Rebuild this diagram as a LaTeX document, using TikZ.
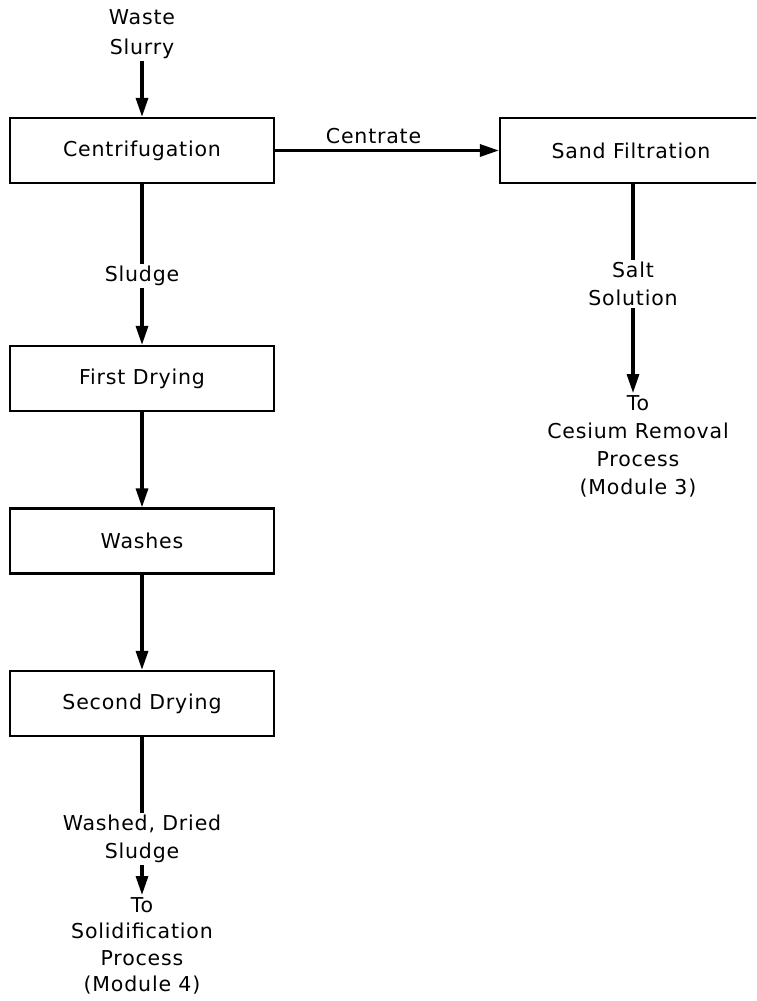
\documentclass[tikz,border=0pt]{standalone}
\usepackage{fontspec}
\setmainfont[LetterSpace=4]{DejaVu Sans}
\usetikzlibrary{arrows.meta}
\begin{document}
\begin{tikzpicture}[x=1pt,y=-1pt,
  box/.style={draw, line width=2.2pt, minimum width=264pt, minimum height=65pt, inner sep=0pt, font=\fontsize{20.5}{28}\selectfont},
  lbl/.style={align=center, inner sep=2pt, font=\fontsize{20.5}{28}\selectfont},
  flow/.style={line width=3.2pt},
  arr/.style={flow, -{Triangle[length=19pt,width=12pt]}}]
\clip (0,0) rectangle (756,1001);
\fill[white] (0,0) rectangle (756,1001);
% boxes
\node[box] (cent) at (142,150.5) {Centrifugation};
\node[box] (fd) at (142,378.5) {First Drying};
\node[box] (wash) at (142,541) {Washes};
\node[box] (sd) at (142,703.5) {Second Drying};
\node[box, minimum width=262pt] (sand) at (631,150.5) {Sand Filtration};
% labels
\node[lbl, font=\fontsize{20.5}{30}\selectfont] (waste) at (142,34) {Waste\\Slurry};
\node[lbl] (sludge) at (142,276) {Sludge};
\node[lbl] (salt) at (633,284) {Salt\\Solution};
\node[lbl, anchor=north] (cs) at (638,393) {To\\Cesium Removal\\Process\\(Module 3)};
\node[lbl] (wds) at (142,839) {Washed, Dried\\Sludge};
\node[lbl, anchor=north, font=\fontsize{20.5}{26.5}\selectfont] (sol) at (142,895) {To\\Solidification\\Process\\(Module 4)};
% connectors
\draw[arr] (waste.south) -- (cent.north);
\draw[flow] (cent.south) -- (sludge.north);
\draw[arr] (sludge.south) -- (fd.north);
\draw[arr] (fd.south) -- (wash.north);
\draw[arr] (wash.south) -- (sd.north);
\draw[flow] (sd.south) -- (wds.north);
\draw[arr] (wds.south) -- (sol.north);
\draw[arr] (cent.east) -- node[lbl, above=3pt, pos=0.44] (ctr) {Centrate} (sand.west);
\draw[flow] (sand.south -| salt) -- (salt.north);
\draw[arr] (salt.south) -- (cs.north -| salt);
\end{tikzpicture}
\end{document}
